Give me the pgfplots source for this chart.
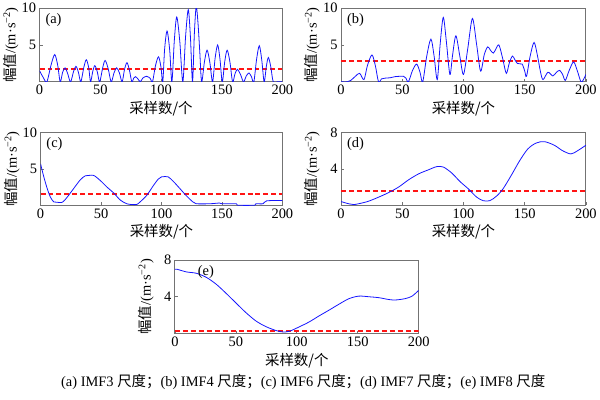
\documentclass[border=0pt]{standalone}
\usepackage{pgfplots}
\pgfplotsset{compat=1.18}
\usepackage{fontspec}
\setmainfont{Liberation Serif}
\newfontfamily\cjk{Noto Sans CJK SC}
\definecolor{thrred}{RGB}{255,20,20}
\definecolor{sigblue}{RGB}{20,20,255}
\pgfplotsset{
  panel/.style={
    scale only axis,
    xmin=0, xmax=200, ymin=0,
    xtick={0,50,100,150,200},
    tick align=inside, tick pos=left,
    major tick length=3pt,
    axis line style={draw=black!55, line width=0.8pt},
    tick style={draw=black!55, line width=0.6pt},
    ticklabel style={font=\fontsize{14.5}{15}\selectfont},
    /pgf/number format/assume math mode=true,
    xlabel={\cjk 采样数/个},
    ylabel={{\cjk 幅值}/(m\textperiodcentered s\textsuperscript{−2})},
    label style={font=\fontsize{14.5}{16}\selectfont},
    xlabel style={at={(axis description cs:0.5,-0.365)}, anchor=center},
    ylabel style={at={(axis description cs:-0.118,0.5)}, anchor=center},
  },
}
\begin{document}
\begin{tikzpicture}[x=1pt,y=1pt]
\path (0,0) rectangle (600,398);
% (a)
\begin{axis}[panel, at={(39pt,319pt)}, anchor=south west, width=244pt, height=74pt, ymax=10, ytick={5,10}]
\addplot[draw=thrred, line width=2pt, dash pattern=on 5pt off 3pt] coordinates {(0,1.7)(200,1.7)};
\addplot[draw=sigblue, line width=0.8pt, smooth, tension=0.5] coordinates {(0,1.5)(3,0.6)(6,0)(9.5,2.3)(12.5,3.7)(15,2.2)(17,0)(19,1.3)(21,1.9)(23,1.2)(25.5,0)(28,1.4)(30,2.1)(32,1.3)(34,0)(36.5,2.0)(38.5,3.0)(40.5,1.9)(42,0)(43.8,1.4)(45.5,2.2)(47.5,1.4)(49.5,0)(52,1.9)(54,2.9)(56.5,1.8)(59,0)(61.3,1.2)(63.5,1.9)(65.8,1.2)(68,0)(70,1.7)(72,2.6)(74,1.6)(76,0)(77.5,0.5)(79,0.7)(81,0.4)(83,0)(85,0.5)(88,0.75)(91,0.5)(93,0)(95.5,2.2)(98,3.4)(100,2)(101.5,0)(103,4.4)(105,6.9)(107.2,4.3)(109,0)(111,5.6)(113,8.8)(115.5,5.5)(118,0)(120.3,6.2)(122.5,9.8)(124.3,6.0)(126,0)(127.5,6.5)(129,10.2)(130.5,8.0)(132,4)(133.5,0)(135.8,2.7)(138,4.3)(140.3,2.6)(142.5,0)(144.6,3.2)(146.7,5.0)(148.6,3.1)(150.5,0)(152.5,2.7)(154.5,4.3)(156.8,2.7)(159,0)(161,1.1)(163,1.7)(165.5,1.0)(168,0)(170.3,0.8)(172.5,1.2)(174.5,0.7)(176.5,0)(178.8,3.1)(181,4.9)(183,3.0)(185,0)(186.8,2.1)(188.5,3.3)(190.5,2.0)(192.5,0)(196,0)(200,0)};
\node[anchor=west, font=\fontsize{14.5}{15}\selectfont] at (rel axis cs:0.01,0.84) {(a)};
\end{axis}
% (b)
\begin{axis}[panel, at={(342pt,319pt)}, anchor=south west, width=246pt, height=74pt, ymax=10, ytick={5,10}]
\addplot[draw=thrred, line width=2pt, dash pattern=on 5pt off 3pt] coordinates {(0,2.85)(200,2.85)};
\addplot[draw=sigblue, line width=0.8pt, smooth, tension=0.5] coordinates {(0,0)(5,0)(8,0.2)(12,0.8)(15.2,1.15)(18.7,0.3)(21.5,2.2)(25.2,3.65)(28,2.2)(30.6,0)(33,0.4)(36,0.5)(40,0.55)(44,0.7)(48,0.75)(51,0.75)(53,0.5)(55,0)(58.5,1.6)(61.8,2.4)(64.5,1.3)(66.7,0)(70,3.5)(73.4,5.8)(76,3.5)(78.6,0.3)(81,5.2)(83.5,8.75)(86,5.5)(88.9,1.0)(91,3.5)(93.8,6.25)(97,3.5)(100,1.0)(103.5,4.5)(107.3,8.6)(110.8,5)(114,1.45)(117,3.7)(119.8,4.75)(122,4.3)(124.4,3.9)(126.6,4.5)(129,5.0)(132,3.2)(135,1.15)(137.5,2.6)(140,3.5)(142,3.0)(144,2.5)(146,2.45)(148,2.4)(150,1.5)(151.5,0.75)(154.5,3.5)(157.7,5.35)(160.5,3.5)(163,1.3)(165,0.3)(169,1.3)(173,0.8)(176,1.3)(178.6,1.55)(181,1.0)(183.2,0.2)(186.5,1.6)(190,2.7)(193,1.5)(196,0)(198,0.3)(200,1.0)};
\node[anchor=west, font=\fontsize{14.5}{15}\selectfont] at (rel axis cs:0.01,0.84) {(b)};
\end{axis}
% (c)
\begin{axis}[panel, at={(40pt,195pt)}, anchor=south west, width=243pt, height=73pt, ymax=10, ytick={5,10}]
\addplot[draw=thrred, line width=2pt, dash pattern=on 5pt off 3pt] coordinates {(0,1.6)(200,1.6)};
\addplot[draw=sigblue, line width=0.8pt, smooth, tension=0.5] coordinates {(0,5.7)(2.7,3.9)(5.5,2.3)(8.2,1.1)(11,0.45)(14,0.4)(18,0.4)(22,1.1)(27.4,2.3)(32.9,3.5)(37,4.05)(40,4.1)(44,4.1)(49.4,3.4)(54.9,2.5)(60.4,1.7)(66,0.7)(71.3,0.2)(75.4,0.1)(79.5,0.1)(82.3,0.45)(87.8,1.35)(93.3,2.7)(97.4,3.6)(100,3.9)(103,3.95)(105.6,3.9)(109.7,3.3)(115.2,2.3)(120.6,1.3)(126,0.45)(128.8,0.2)(140,0.2)(148,0.3)(150,0.2)(162,0.2)(163,0)(177,0)(178,0.2)(184,0.2)(187,0.6)(200,0.65)};
\node[anchor=west, font=\fontsize{14.5}{15}\selectfont] at (rel axis cs:0.01,0.84) {(c)};
\end{axis}
% (d)
\begin{axis}[panel, at={(342pt,195pt)}, anchor=south west, width=246pt, height=73pt, ymax=8, ytick={4,8}]
\addplot[draw=thrred, line width=2pt, dash pattern=on 5pt off 3pt] coordinates {(0,1.53)(200,1.53)};
\addplot[draw=sigblue, line width=0.8pt, smooth, tension=0.5] coordinates {(0,0.4)(1,0.36)(6.5,0.15)(10.5,0.07)(17.3,0.25)(22.7,0.45)(30.9,0.9)(39,1.4)(47,2.0)(55.2,2.8)(63.3,3.45)(71.4,3.9)(78.2,4.25)(83.6,4.2)(90.4,3.55)(97.2,2.6)(104,1.8)(110.7,0.9)(116.1,0.5)(121.5,0.5)(127,1.0)(132.3,1.8)(139.1,3.3)(145.9,4.9)(152.6,6.2)(159.4,6.85)(166.2,7.0)(174.3,6.6)(181,6.0)(187.8,5.65)(193.2,6.0)(200,6.6)};
\node[anchor=west, font=\fontsize{14.5}{15}\selectfont] at (rel axis cs:0.01,0.84) {(d)};
\end{axis}
% (e)
\begin{axis}[panel, at={(175pt,66pt)}, anchor=south west, width=245pt, height=74pt, ymax=8, ytick={4,8}]
\addplot[draw=thrred, line width=2pt, dash pattern=on 5pt off 3pt] coordinates {(0,0.3)(200,0.3)};
\addplot[draw=sigblue, line width=0.8pt, smooth, tension=0.5] coordinates {(0,7.0)(1.4,7.0)(9.5,6.7)(17.7,6.55)(25.9,6.1)(34,5.35)(42.2,4.35)(50.3,3.3)(58.5,2.25)(66.7,1.35)(74.8,0.75)(83,0.33)(88.4,0.18)(93.9,0.25)(102,0.73)(110.2,1.27)(118.4,1.93)(126.5,2.55)(134.7,3.2)(142.9,3.8)(151,4.07)(159.2,4.0)(167.3,3.9)(175.5,3.7)(181,3.65)(189,3.8)(194.6,4.07)(200,4.7)};
\node[anchor=west, font=\fontsize{14.5}{15}\selectfont] at (rel axis cs:0.08,0.84) {(e)};
\end{axis}
\node[font=\fontsize{14.5}{16}\selectfont] at (304,17) {(a) IMF3 {\cjk 尺度；}(b) IMF4 {\cjk 尺度；}(c) IMF6 {\cjk 尺度；}(d) IMF7 {\cjk 尺度；}(e) IMF8 {\cjk 尺度}};
\end{tikzpicture}
\end{document}
